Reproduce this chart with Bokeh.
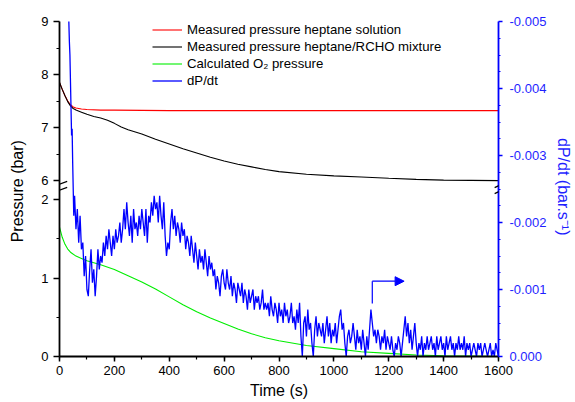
from bokeh.plotting import figure
from bokeh.models import (Range1d, LinearAxis, FixedTicker, SingleIntervalTicker,
                          CustomJSTransform, CustomJSTickFormatter, PrintfTickFormatter,
                          Legend, LegendItem, Arrow, NormalHead, ColumnDataSource)
from bokeh.transform import transform
from bokeh.embed import file_html
from bokeh.resources import INLINE

# ---------------- data ----------------
t_red = [0, 10, 20, 30, 40, 50, 60, 80, 100, 150, 200, 300, 400, 600, 800, 1000, 1200, 1400, 1600]
p_red = [7.85, 7.72, 7.60, 7.50, 7.43, 7.39, 7.37, 7.35, 7.34, 7.33, 7.33, 7.325, 7.32, 7.32,
         7.32, 7.32, 7.32, 7.32, 7.32]

t_black = [0, 10, 20, 30, 40, 50, 60, 80, 100, 125, 150, 175, 200, 225, 250, 300, 350, 400,
           450, 500, 550, 600, 650, 700, 750, 800, 900, 1000, 1100, 1200, 1300, 1400, 1500, 1600]
p_black = [7.85, 7.72, 7.60, 7.49, 7.41, 7.36, 7.33, 7.29, 7.25, 7.21, 7.18, 7.14, 7.08, 7.01,
           6.96, 6.88, 6.78, 6.69, 6.60, 6.52, 6.44, 6.37, 6.31, 6.26, 6.21, 6.17, 6.12, 6.09,
           6.07, 6.045, 6.025, 6.01, 6.005, 6.0]

t_green = [0, 10, 20, 30, 40, 60, 80, 100, 150, 200, 250, 300, 350, 400, 450, 500, 550, 600,
           650, 700, 750, 800, 900, 1000, 1100, 1200, 1300, 1400, 1500, 1600]
p_green = [1.65, 1.52, 1.43, 1.37, 1.33, 1.28, 1.25, 1.22, 1.17, 1.11, 1.03, 0.95, 0.86, 0.76,
           0.66, 0.57, 0.49, 0.42, 0.35, 0.29, 0.24, 0.20, 0.14, 0.10, 0.06, 0.04, 0.02, 0.01,
           0.005, 0.0]

# -dP/dt in units of 1e-4 bar/s
t_dpdt_early = [32, 34, 36, 38, 40, 42, 44, 46, 48, 50, 52]
dpdt_early = [62, 50, 47, 45, 41, 37, 33, 34, 29, 25, 21]
t_dpdt_start, t_dpdt_step = 55, 5
dpdt_rows = [
    [24, 19, 22, 17, 21, 16, 17, 12, 15, 10, 9, 13, 16, 11, 13, 9, 12, 16, 13, 15],          # 55-150
    [14, 17, 15, 18, 16, 19, 17, 15, 18, 16, 19, 17, 18, 20, 17, 19, 22, 19, 23, 20],        # 155-250
    [18, 21, 17, 22, 19, 20, 18, 21, 19, 22, 20, 18, 22, 17, 21, 20, 23, 21, 24, 22],        # 255-350
    [23, 20, 24, 21, 19, 23, 18, 15, 17, 16, 20, 22, 19, 21, 18, 20, 19, 17, 20, 18],        # 355-450
    [19, 16, 18, 17, 15, 18, 16, 14, 17, 15, 13, 16, 14, 15, 13, 16, 14, 12, 15, 13],        # 455-550
    [14, 12, 13, 10, 12, 11, 9, 12, 13, 11, 10, 13, 11, 10, 12, 9, 11, 10, 8, 11],           # 555-650
    [10, 9, 11, 8, 10, 9, 7, 10, 8, 9, 10, 7, 9, 8, 9, 7, 8, 10, 7, 8],                      # 655-750
    [7, 8, 6, 9, 7, 6, 8, 7, 5, 8, 6, 7, 5, 8, 6, 7, 5, 6, 8, 5],                            # 755-850
    [6, 4, 7, 5, 8, 3, 0, 5, 6, 3, 7, 4, 5, 2, 0, 4, 6, 3, 5, 4],                            # 855-950
    [3, 5, 2, 4, 6, 3, 5, 2, 4, 3, 5, 2, 4, 6, 7, 4, 5, 2, 0, 3],                            # 955-1050
    [4, 2, 3, 5, 3, 1, 4, 2, 3, 1, 4, 2, 0, 3, 1, 4, 7, 5, 3, 4],                            # 1055-1150
    [2, 4, 3, 1, 3, 2, 4, 1, 3, 2, 1, 3, 1, 0, 2, 1, 3, 2, 0, 2],                            # 1155-1250
    [4, 6, 3, 5, 2, 4, 1, 3, 5, 2, 0, 2, 1, 3, 0, 2, 1, 3, 1, 2],                            # 1255-1350
    [3, 1, 2, 0, 3, 1, 2, 3, 1, 2, 0, 3, 1, 2, 3, 1, 2, 0, 2, 1],                            # 1355-1450
    [3, 1, 2, 1, 3, 0, 2, 1, 2, 0, 1, 2, 1, 0, 2, 1, 2, 0, 1, 2],                            # 1455-1550
    [1, 0, 1, 2, 0, 1, 0, 2, 1, 0],                                                          # 1555-1600
]

# left axis ticks (bar)
left_ticks = [0, 1, 2, 6, 7, 8, 9]
left_minor = [0.5, 1.5, 6.5, 7.5, 8.5]
right_ticks = [0.0, -0.001, -0.002, -0.003, -0.004, -0.005]
right_minor = [-0.00025, -0.0005, -0.00075, -0.00125, -0.0015, -0.00175, -0.00225, -0.0025,
               -0.00275, -0.00325, -0.0035, -0.00375, -0.00425, -0.0045, -0.00475]

# annotation arrow (time, dP/dt)
arrow_t = [1140, 1256]
arrow_d = [-0.00079, -0.001124]

# ---------------- broken-axis geometry ----------------
KB = 78.5      # px per bar, lower segment
T0 = 176.0     # position of 6 bar
KT = 53.1      # px per bar, upper segment
SPLIT = 4.0
V_TOP = T0 + 3 * KT


def vpos(b):
    return b * KB if b < SPLIT else T0 + (b - 6) * KT


brk = CustomJSTransform(args=dict(kb=KB, t0=T0, kt=KT, split=SPLIT), v_func="""
const out = new Float64Array(xs.length);
for (let i = 0; i < xs.length; i++) {
  const v = xs[i];
  out[i] = v > split ? t0 + (v - 6) * kt : v * kb;
}
return out;
""")

t_dpdt = list(t_dpdt_early)
dpdt = [-v * 1e-4 for v in dpdt_early]
k = 0
for row in dpdt_rows:
    for v in row:
        t_dpdt.append(t_dpdt_start + t_dpdt_step * k)
        dpdt.append(-v * 1e-4)
        k += 1

FONT = "Liberation Sans"
BLUE = "#0000FF"
BLUE_TXT = "#1F1FFF"

p = figure(width=575, height=402, output_backend="svg", toolbar_location=None,
           x_range=Range1d(0, 1600), y_range=Range1d(0, V_TOP),
           min_border_left=59, min_border_right=74, min_border_top=21, min_border_bottom=46)
p.extra_y_ranges = {"dpdt": Range1d(start=0, end=-0.005)}
p.xgrid.visible = False
p.ygrid.visible = False
p.outline_line_color = None
p.background_fill_color = "white"
p.border_fill_color = "white"

src_red = ColumnDataSource(dict(t=t_red, p=p_red))
src_black = ColumnDataSource(dict(t=t_black, p=p_black))
src_green = ColumnDataSource(dict(t=t_green, p=p_green))
src_blue = ColumnDataSource(dict(t=t_dpdt, d=dpdt))

r_red = p.line("t", transform("p", brk), source=src_red, line_color="#FF0000", line_width=1.1)
r_black = p.line("t", transform("p", brk), source=src_black, line_color="black", line_width=1.1)
r_green = p.line("t", transform("p", brk), source=src_green, line_color="#00EE00", line_width=1.1)
r_blue = p.line("t", "d", source=src_blue, y_range_name="dpdt", line_color=BLUE, line_width=1.3)

# axes
xa = p.xaxis[0]
xa.ticker = SingleIntervalTicker(interval=200, num_minor_ticks=2)
xa.axis_label = "Time (s)"
ya = p.yaxis[0]
ya.ticker = FixedTicker(ticks=[vpos(b) for b in left_ticks], minor_ticks=[vpos(b) for b in left_minor])
ya.formatter = CustomJSTickFormatter(args=dict(kb=KB, t0=T0, kt=KT), code="""
const v = tick > 166 ? 6 + (tick - t0) / kt : tick / kb;
return Math.round(v).toString();
""")
ya.axis_label = "Pressure  (bar)"

ra = LinearAxis(y_range_name="dpdt", axis_label="dP/dt  (bar.s\u207b\u00b9)",
                ticker=FixedTicker(ticks=right_ticks, minor_ticks=right_minor),
                formatter=PrintfTickFormatter(format="%.3f"))
p.add_layout(ra, "right")

for ax in (xa, ya, ra):
    ax.major_label_text_font = FONT
    ax.major_label_text_font_size = "13px"
    ax.major_label_text_color = "black"
    ax.axis_label_text_font = FONT
    ax.axis_label_text_font_size = "16px"
    ax.axis_label_text_font_style = "normal"
    ax.axis_label_text_color = "black"
    ax.major_tick_in = 0
    ax.minor_tick_in = 0
    ax.axis_line_width = 1.8
    ax.major_tick_line_width = 1.5
    ax.minor_tick_line_width = 1.2

xa.major_tick_out = 5
xa.minor_tick_out = 3
xa.major_label_standoff = 4
xa.axis_label_standoff = 4
ya.major_tick_out = 6
ya.minor_tick_out = 3
ya.major_label_standoff = 5
ya.axis_label_standoff = 12
ra.major_tick_out = 4
ra.minor_tick_out = 2
ra.major_label_standoff = 7
ra.axis_label_standoff = 6
ra.axis_line_color = BLUE
ra.major_tick_line_color = BLUE
ra.minor_tick_line_color = BLUE
ra.major_label_text_color = BLUE_TXT
ra.axis_label_text_color = BLUE_TXT

# axis-break marks
for (x0, y0, x1, y1) in [(-33, vpos(6) - 6.7, 28, vpos(6) - 0.7),
                         (-33, vpos(6) - 12.7, 28, vpos(6) - 6.7),
                         (1586, vpos(6) - 7, 1615, vpos(6) - 3),
                         (1586, vpos(6) - 13, 1615, vpos(6) - 9)]:
    p.add_layout(Arrow(x_start=x0, y_start=y0, x_end=x1, y_end=y1, end=None,
                       line_color="black", line_width=1.2))

# arrow pointing to right axis
p.add_layout(Arrow(x_start=arrow_t[0], y_start=arrow_d[0], x_end=arrow_t[0], y_end=arrow_d[1],
                   end=None, y_range_name="dpdt", line_color=BLUE, line_width=1.2))
p.add_layout(Arrow(x_start=arrow_t[0], y_start=arrow_d[1], x_end=arrow_t[1], y_end=arrow_d[1],
                   end=NormalHead(size=9, fill_color=BLUE, line_color=BLUE),
                   y_range_name="dpdt", line_color=BLUE, line_width=1.2))

legend = Legend(items=[
    LegendItem(label="Measured pressure heptane solution", renderers=[r_red]),
    LegendItem(label="Measured pressure heptane/RCHO mixture", renderers=[r_black]),
    LegendItem(label="Calculated O\u2082 pressure", renderers=[r_green]),
    LegendItem(label="dP/dt", renderers=[r_blue]),
], location=(93, 267), label_text_font=FONT, label_text_font_size="13.2px",
    label_text_color="black",
    glyph_width=30, glyph_height=17, label_height=17, spacing=0, padding=0, margin=0,
    label_standoff=5, border_line_color=None, background_fill_alpha=0)
p.add_layout(legend)

open("out.html", "w").write(file_html(p, INLINE))
